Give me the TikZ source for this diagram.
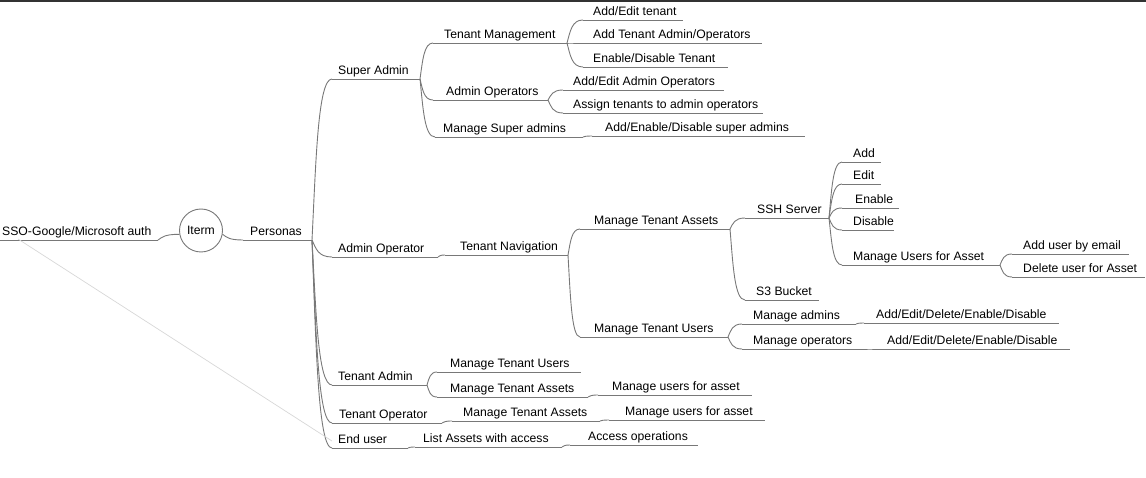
\documentclass[tikz,border=0pt]{standalone}
\usepackage{fontspec}
\setmainfont{Liberation Sans}
\usetikzlibrary{calc}
\definecolor{lncol}{RGB}{120,120,120}
\definecolor{faint}{RGB}{215,215,215}
\definecolor{topbar}{RGB}{50,50,50}
\tikzset{
  ln/.style={draw=lncol, line width=0.9pt},
  txt/.style={inner sep=0pt, anchor=base west, font=\fontsize{12.2}{14}\selectfont, text=black},
}
\newcommand\topic[6]{%
  \node[txt] (#1) at (#2,#3-4.8) {#6};
  \coordinate (#1-l) at (#4,#3);
  \coordinate (#1-r) at (#5,#3);
  \draw[ln] (#1-l) -- (#1-r);
}
\newcommand\conn[2]{%
  \draw[ln] let \p1=(#1), \p2=(#2) in
    (\p1) .. controls ({\x1+0.2*(\x2-\x1)}, {\y1+0.5*(\y2-\y1)})
           and ({\x2-0.7*(\x2-\x1)}, \y2) .. (\p2);
}
\begin{document}
\begin{tikzpicture}[x=1pt, y=-1pt]
\useasboundingbox (0,0) rectangle (1146,478);
\fill[topbar] (0,0) rectangle (1146,1.6);

% root
\topic{sso}{2}{240}{0}{158}{SSO-Google/Microsoft auth}
\node[circle, draw=lncol, line width=0.9pt, minimum size=43pt, inner sep=0pt,
      font=\fontsize{12.2}{14}\selectfont] (iterm) at (201,230.5) {Iterm};
\conn{sso-r}{iterm.190}
\topic{per}{250}{240}{243}{312}{Personas}
\conn{iterm.-10}{per-l}

% personas
\topic{sa}{338}{79}{332}{420}{Super Admin}
\topic{ao}{338}{257}{332}{438}{Admin Operator}
\topic{ta}{338}{385}{332}{427}{Tenant Admin}
\topic{to}{339}{423}{332}{442}{Tenant Operator}
\topic{eu}{338}{448}{332}{408}{End user}
\foreach \c in {sa,ao,ta,to,eu} {\conn{per-r}{\c-l}}

% super admin
\topic{tm}{444}{43}{433}{567}{Tenant Management}
\topic{aops}{446}{100}{433}{548}{Admin Operators}
\topic{msa}{443}{137}{435}{583}{Manage Super admins}
\foreach \c in {tm,aops,msa} {\conn{sa-r}{\c-l}}

\topic{aet}{593}{20}{583}{683}{Add/Edit tenant}
\topic{atao}{593}{43}{575}{762}{Add Tenant Admin/Operators}
\topic{edt}{593}{67}{583}{728}{Enable/Disable Tenant}
\foreach \c in {aet,atao,edt} {\conn{tm-r}{\c-l}}

\topic{aeao}{573}{90}{563}{724}{Add/Edit Admin Operators}
\topic{ata}{573}{113}{563}{763}{Assign tenants to admin operators}
\foreach \c in {aeao,ata} {\conn{aops-r}{\c-l}}

\topic{aeds}{605}{136}{592}{805}{Add/Enable/Disable super admins}
\conn{msa-r}{aeds-l}

% admin operator
\topic{tn}{460}{255}{445}{568}{Tenant Navigation}
\conn{ao-r}{tn-l}
\topic{mta}{594}{229}{580}{730}{Manage Tenant Assets}
\topic{mtu}{594}{337}{580}{728}{Manage Tenant Users}
\foreach \c in {mta,mtu} {\conn{tn-r}{\c-l}}

\topic{ssh}{757}{218}{745}{829}{SSH Server}
\topic{sthree}{756}{300}{745}{819}{S3 Bucket}
\foreach \c in {ssh,sthree} {\conn{mta-r}{\c-l}}

\topic{add}{853}{162}{842}{881}{Add}
\topic{edit}{853}{184}{842}{881}{Edit}
\topic{enable}{855}{208}{842}{899}{Enable}
\topic{disable}{853}{230}{842}{894}{Disable}
\topic{mufa}{853}{265}{842}{1000}{Manage Users for Asset}
\foreach \c in {add,edit,enable,disable,mufa} {\conn{ssh-r}{\c-l}}

\topic{aube}{1023}{254}{1012}{1129}{Add user by email}
\topic{dufa}{1023}{277}{1012}{1145}{Delete user for Asset}
\foreach \c in {aube,dufa} {\conn{mufa-r}{\c-l}}

\topic{madm}{753}{324}{742}{856}{Manage admins}
\topic{mop}{753}{349}{742}{866}{Manage operators}
\foreach \c in {madm,mop} {\conn{mtu-r}{\c-l}}

\topic{madmc}{876}{323}{864}{1059}{Add/Edit/Delete/Enable/Disable}
\conn{madm-r}{madmc-l}
\topic{mopc}{887}{349}{874}{1070}{Add/Edit/Delete/Enable/Disable}
\conn{mop-r}{mopc-l}

% tenant admin
\topic{tamtu}{450}{372}{437}{581}{Manage Tenant Users}
\topic{tamta}{450}{397}{437}{588}{Manage Tenant Assets}
\foreach \c in {tamtu,tamta} {\conn{ta-r}{\c-l}}
\topic{tamufa}{612}{395}{598}{752}{Manage users for asset}
\conn{tamta-r}{tamufa-l}

% tenant operator
\topic{tomta}{463}{421}{452}{600}{Manage Tenant Assets}
\conn{to-r}{tomta-l}
\topic{tomufa}{625}{420}{609}{765}{Manage users for asset}
\conn{tomta-r}{tomufa-l}

% end user
\topic{lawa}{423}{447}{415}{562}{List Assets with access}
\conn{eu-r}{lawa-l}
\topic{aop}{588}{445}{570}{698}{Access operations}
\conn{lawa-r}{aop-l}

% faint relation line
\coordinate (rel-a) at (18,239);
\coordinate (rel-b) at (332,441);
\draw[faint, line width=0.7pt] (rel-a) -- (rel-b);
\end{tikzpicture}
\end{document}
